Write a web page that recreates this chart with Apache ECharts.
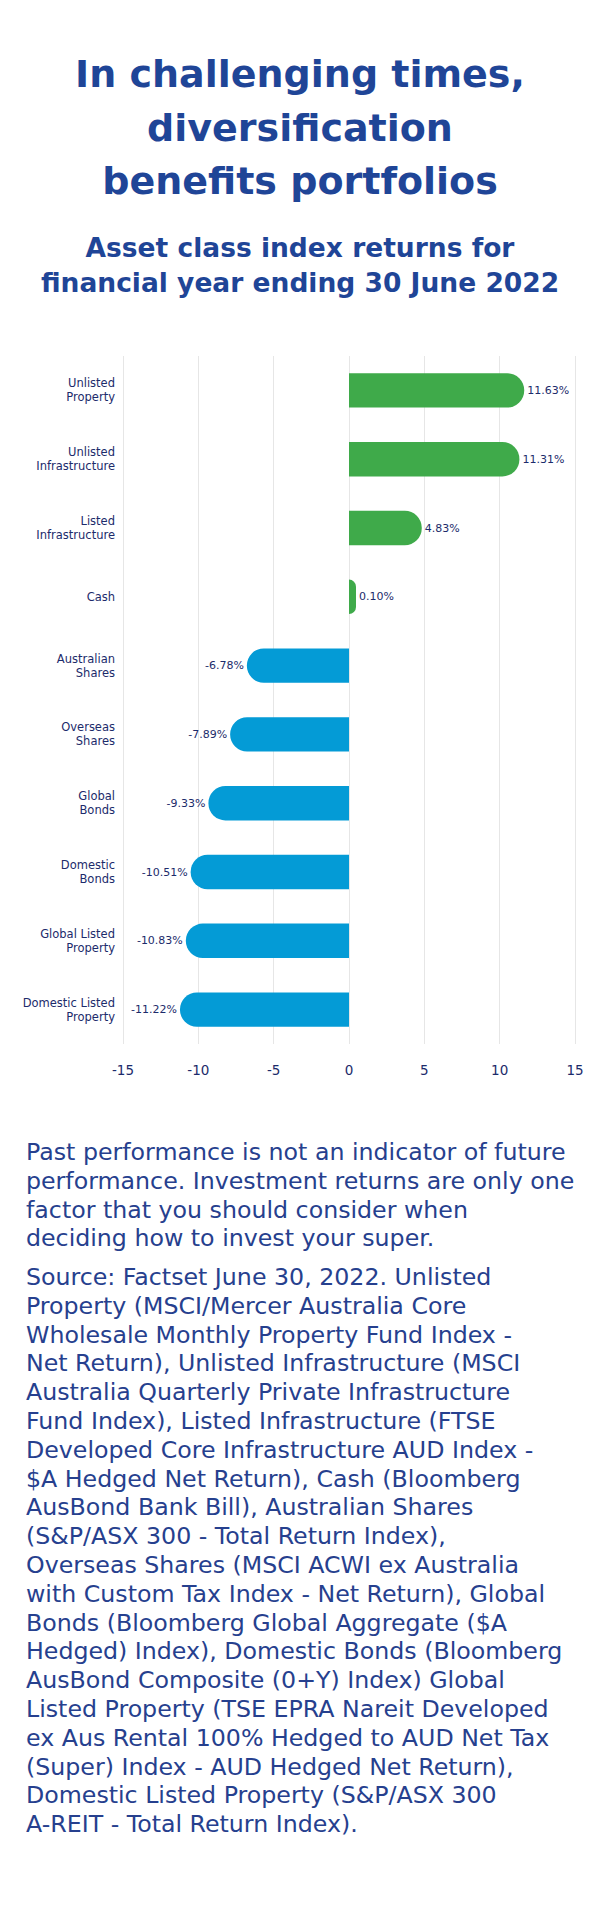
<!DOCTYPE html>
<html>
<head>
<meta charset="utf-8">
<script src="https://cdn.jsdelivr.net/npm/echarts@6/dist/echarts.min.js"></script>
<style>
  html, body { margin: 0; padding: 0; background: #ffffff; }
  #chart { width: 600px; height: 1913px; }
</style>
</head>
<body>
<div id="chart"></div>
<script>
// ---- data ----
const categories = [
  'Unlisted\nProperty',
  'Unlisted\nInfrastructure',
  'Listed\nInfrastructure',
  'Cash',
  'Australian\nShares',
  'Overseas\nShares',
  'Global\nBonds',
  'Domestic\nBonds',
  'Global Listed\nProperty',
  'Domestic Listed\nProperty'
];
const returns = [11.63, 11.31, 4.83, 0.10, -6.78, -7.89, -9.33, -10.51, -10.83, -11.22];
const axisMin = -15;
const axisMax = 15;
const axisStep = 5;

const titleLines = [
  'In challenging times,',
  'diversification',
  'benefits portfolios'
];
const subtitleLines = [
  'Asset class index returns for',
  'financial year ending 30 June 2022'
];
const noteLines = [
  'Past performance is not an indicator of future',
  'performance. Investment returns are only one',
  'factor that you should consider when',
  'deciding how to invest your super.'
];
const sourceLines = [
  'Source: Factset June 30, 2022. Unlisted',
  'Property (MSCI/Mercer Australia Core',
  'Wholesale Monthly Property Fund Index -',
  'Net Return), Unlisted Infrastructure (MSCI',
  'Australia Quarterly Private Infrastructure',
  'Fund Index), Listed Infrastructure (FTSE',
  'Developed Core Infrastructure AUD Index -',
  '$A Hedged Net Return), Cash (Bloomberg',
  'AusBond Bank Bill), Australian Shares',
  '(S&P/ASX 300 - Total Return Index),',
  'Overseas Shares (MSCI ACWI ex Australia',
  'with Custom Tax Index - Net Return), Global',
  'Bonds (Bloomberg Global Aggregate ($A',
  'Hedged) Index), Domestic Bonds (Bloomberg',
  'AusBond Composite (0+Y) Index) Global',
  'Listed Property (TSE EPRA Nareit Developed',
  'ex Aus Rental 100% Hedged to AUD Net Tax',
  '(Super) Index - AUD Hedged Net Return),',
  'Domestic Listed Property (S&P/ASX 300',
  'A-REIT - Total Return Index).'
];

// ---- styles ----
const FONT = 'DejaVu Sans';
const TITLE_COLOR = '#1f4597';
const LABEL_COLOR = '#1c2b6b';
const NOTE_COLOR = '#26408e';
const POS_COLOR = '#3faa4a';
const NEG_COLOR = '#049bd6';
const R = 17;

const barData = returns.map(v => ({
  value: v,
  itemStyle: {
    color: v >= 0 ? POS_COLOR : NEG_COLOR,
    borderRadius: v >= 0 ? [0, R, R, 0] : [R, 0, 0, R]
  },
  label: { position: v >= 0 ? 'right' : 'left' }
}));

const chart = echarts.init(document.getElementById('chart'), null, { renderer: 'svg' });

chart.setOption({
  backgroundColor: '#ffffff',
  animation: false,
  grid: {
    left: 123,
    right: 25,
    top: 356,
    bottom: 869,
    containLabel: false,
    outerBoundsMode: 'none'
  },
  xAxis: {
    type: 'value',
    min: axisMin,
    max: axisMax,
    interval: axisStep,
    axisLine: { show: false },
    axisTick: { show: false },
    splitLine: { show: true, lineStyle: { color: '#e6e6e6', width: 1 } },
    axisLabel: {
      color: LABEL_COLOR,
      fontFamily: FONT,
      fontSize: 13.5,
      margin: 19
    }
  },
  yAxis: {
    type: 'category',
    inverse: true,
    data: categories,
    axisLine: { show: false },
    axisTick: { show: false },
    splitLine: { show: false },
    axisLabel: {
      color: LABEL_COLOR,
      fontFamily: FONT,
      fontSize: 11.5,
      lineHeight: 14,
      margin: 8,
      align: 'right'
    }
  },
  series: [{
    type: 'bar',
    data: barData,
    barWidth: '50%',
    barMinHeight: 7,
    label: {
      show: true,
      color: LABEL_COLOR,
      fontFamily: FONT,
      fontSize: 11,
      distance: 3,
      formatter: p => p.value.toFixed(2) + '%'
    }
  }],
  graphic: [
    {
      type: 'text',
      x: 300,
      y: 47.6,
      style: {
        text: titleLines.join('\n'),
        fontFamily: FONT,
        fontWeight: 'bold',
        fontSize: 38,
        lineHeight: 53.4,
        fill: TITLE_COLOR,
        align: 'center',
        verticalAlign: 'top'
      }
    },
    {
      type: 'text',
      x: 300,
      y: 230.3,
      style: {
        text: subtitleLines.join('\n'),
        fontFamily: FONT,
        fontWeight: 'bold',
        fontSize: 26.5,
        lineHeight: 35,
        fill: TITLE_COLOR,
        align: 'center',
        verticalAlign: 'top'
      }
    },
    {
      type: 'text',
      x: 26,
      y: 1137.6,
      style: {
        text: noteLines.join('\n'),
        fontFamily: FONT,
        fontSize: 23.7,
        lineHeight: 28.8,
        fill: NOTE_COLOR,
        align: 'left',
        verticalAlign: 'top'
      }
    },
    {
      type: 'text',
      x: 26,
      y: 1262.6,
      style: {
        text: sourceLines.join('\n'),
        fontFamily: FONT,
        fontSize: 23.7,
        lineHeight: 28.8,
        fill: NOTE_COLOR,
        align: 'left',
        verticalAlign: 'top'
      }
    }
  ]
});
</script>
</body>
</html>
